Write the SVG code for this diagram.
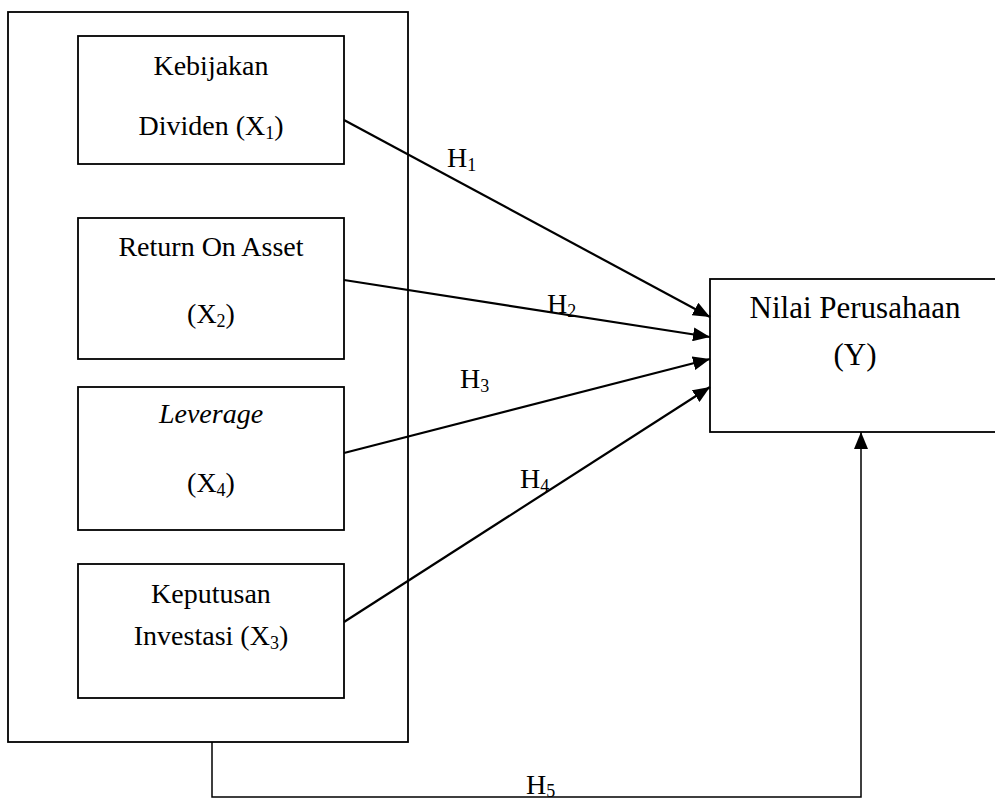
<svg xmlns="http://www.w3.org/2000/svg" width="995" height="802" viewBox="0 0 995 802">
<style>
.box{fill:#fff;stroke:#000;stroke-width:1.8}
.t{font-family:"Liberation Serif","Times New Roman",serif;font-size:28px;fill:#000;text-anchor:middle}
.h{font-family:"Liberation Serif","Times New Roman",serif;font-size:28px;fill:#000}
.sub{font-size:18px}
.c{stroke:#000;stroke-width:2.2;fill:none}
.c2{stroke:#000;stroke-width:1.5;fill:none}
</style>
<defs>
<marker id="ah" viewBox="0 0 17 14" refX="17" refY="7" markerWidth="17" markerHeight="14" markerUnits="userSpaceOnUse" orient="auto">
<path d="M0,0 L17,7 L0,14 z" fill="#000"/>
</marker>
</defs>
<rect width="995" height="802" fill="#fff"/>
<g id="outer"><rect class="box" x="8" y="12" width="400" height="730"/></g>
<g id="x1">
<rect class="box" x="78" y="36" width="266" height="128"/>
<text class="t" x="211" y="75">Kebijakan</text>
<text class="t" x="211" y="135">Dividen (X<tspan class="sub" dy="4">1</tspan><tspan dy="-4">)</tspan></text>
</g>
<g id="x2">
<rect class="box" x="78" y="218" width="266" height="141"/>
<text class="t" x="211" y="256">Return On Asset</text>
<text class="t" x="211" y="323">(X<tspan class="sub" dy="4">2</tspan><tspan dy="-4">)</tspan></text>
</g>
<g id="x4">
<rect class="box" x="78" y="387" width="266" height="143"/>
<text class="t" x="211" y="423" font-style="italic">Leverage</text>
<text class="t" x="211" y="492">(X<tspan class="sub" dy="4">4</tspan><tspan dy="-4">)</tspan></text>
</g>
<g id="x3">
<rect class="box" x="78" y="564" width="266" height="134"/>
<text class="t" x="211" y="603">Keputusan</text>
<text class="t" x="211" y="645">Investasi (X<tspan class="sub" dy="4">3</tspan><tspan dy="-4">)</tspan></text>
</g>
<g id="y">
<rect class="box" x="710" y="279" width="300" height="153"/>
<text class="t" x="855" y="318" style="font-size:31px">Nilai Perusahaan</text>
<text class="t" x="855" y="365" style="font-size:31px">(Y)</text>
</g>
<g id="connectors">
<line class="c" x1="344" y1="120" x2="710" y2="317" marker-end="url(#ah)"/>
<line class="c" x1="344" y1="280" x2="710" y2="337" marker-end="url(#ah)"/>
<line class="c" x1="344" y1="453" x2="710" y2="359" marker-end="url(#ah)"/>
<line class="c" x1="344" y1="622" x2="710" y2="387" marker-end="url(#ah)"/>
<polyline class="c2" points="212,742 212,797 861,797 861,432" marker-end="url(#ah)"/>
<text class="h" x="447" y="167">H<tspan class="sub" dy="4">1</tspan></text>
<text class="h" x="547" y="313">H<tspan class="sub" dy="4">2</tspan></text>
<text class="h" x="460" y="388">H<tspan class="sub" dy="4">3</tspan></text>
<text class="h" x="520" y="488">H<tspan class="sub" dy="4">4</tspan></text>
<text class="h" x="526" y="794">H<tspan class="sub" dy="3">5</tspan></text>
</g>
</svg>
